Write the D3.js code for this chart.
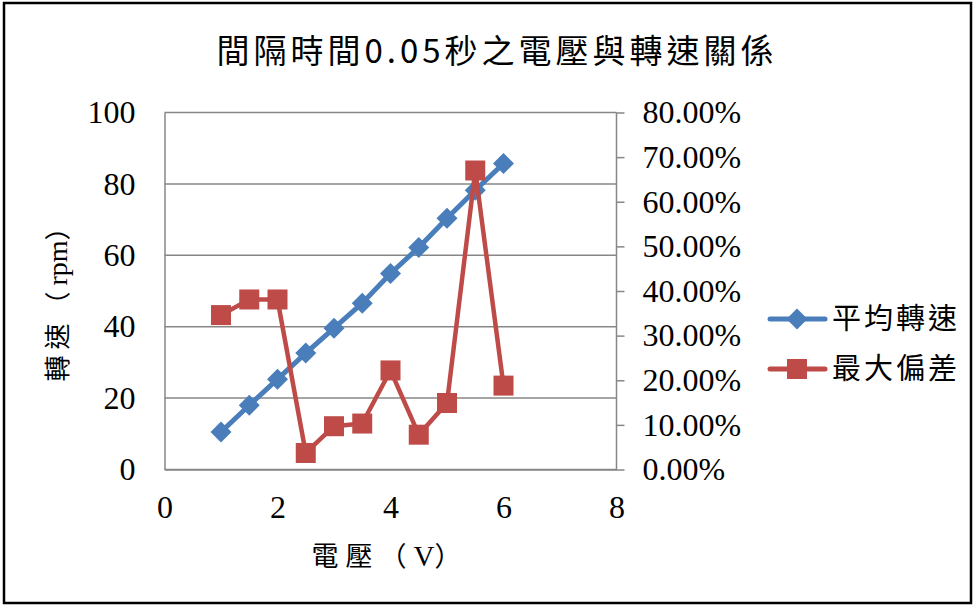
<!DOCTYPE html>
<html>
<head>
<meta charset="utf-8">
<script src="https://cdn.jsdelivr.net/npm/d3@7"></script>
<style>
  html, body { margin: 0; padding: 0; background: #fff; }
  svg { display: block; }
</style>
</head>
<body>
<svg id="chart" width="977" height="608"></svg>
<script>
// Voltage (V) at each measurement
const voltages = [1, 1.5, 2, 2.5, 3, 3.5, 4, 4.5, 5, 5.5, 6];
// Average rotation speed (rpm)
const avgSpeed = [10.5, 18.0, 25.3, 32.6, 39.6, 46.6, 54.9, 62.2, 70.4, 78.2, 85.7];
// Maximum deviation (fraction)
const maxDev = [0.346, 0.381, 0.381, 0.037, 0.097, 0.103, 0.222, 0.078, 0.149, 0.670, 0.188];

const xTicks = [0, 2, 4, 6, 8];
const leftTicks = [0, 20, 40, 60, 80, 100];
const rightTicks = [0, 0.1, 0.2, 0.3, 0.4, 0.5, 0.6, 0.7, 0.8];

const titleText = "間隔時間0.05秒之電壓與轉速關係";
// axis titles split into CJK / Latin runs: [text, isLatin]
const xTitleParts = [["電壓（", false], ["V", true], ["）", false]];
const yTitleParts = [["轉速（", false], ["rpm", true], ["）", false]];
const seriesNames = ["平均轉速", "最大偏差"];

const blue = "#4a7ebb", red = "#be4b48", gridColor = "#878787";
const serif = "'Liberation Serif', 'Times New Roman', serif";
const cjk = "'Noto Sans CJK TC', 'Noto Sans CJK SC', sans-serif";

const svg = d3.select("#chart");
const plot = { left: 164.5, right: 616.5, top: 112.5, bottom: 469.5 };

const x = d3.scaleLinear().domain([0, 8]).range([plot.left, plot.right]);
const yL = d3.scaleLinear().domain([0, 100]).range([plot.bottom, plot.top]);
const yR = d3.scaleLinear().domain([0, 0.8]).range([plot.bottom, plot.top]);

// outer frame
svg.append("rect").attr("x", 4).attr("y", 3).attr("width", 967).attr("height", 600)
  .attr("fill", "#fff").attr("stroke", "#000").attr("stroke-width", 2.5);

// title
svg.append("text").attr("x", 497).attr("y", 63).attr("text-anchor", "middle")
  .style("font-family", cjk).style("font-size", "33px").style("letter-spacing", "4px")
  .attr("fill", "#000").text(titleText);

// horizontal gridlines
svg.append("g").selectAll("line").data(leftTicks).join("line")
  .attr("x1", plot.left).attr("x2", plot.right)
  .attr("y1", d => yL(d)).attr("y2", d => yL(d))
  .attr("stroke", gridColor).attr("stroke-width", 1.5);

// left axis
const gL = svg.append("g").attr("transform", `translate(${plot.left},0)`)
  .call(d3.axisLeft(yL).tickValues(leftTicks).tickSize(0).tickPadding(29));
gL.select(".domain").attr("stroke", gridColor).attr("stroke-width", 1.5);
gL.selectAll("text").style("font-family", serif).style("font-size", "32px").attr("fill", "#000");

// right axis
const gR = svg.append("g").attr("transform", `translate(${plot.right},0)`)
  .call(d3.axisRight(yR).tickValues(rightTicks).tickSize(8).tickPadding(18)
    .tickFormat(d => (d * 100).toFixed(2) + "%"));
gR.select(".domain").attr("stroke", gridColor).attr("stroke-width", 1.5).attr("d", `M0,${plot.bottom}V${plot.top}`);
gR.selectAll(".tick line").attr("stroke", gridColor).attr("stroke-width", 1.5);
gR.selectAll("text").style("font-family", serif).style("font-size", "32px").attr("fill", "#000");

// bottom axis
const gX = svg.append("g").attr("transform", `translate(0,${plot.bottom})`)
  .call(d3.axisBottom(x).tickValues(xTicks).tickSize(0).tickPadding(26));
gX.select(".domain").attr("stroke", gridColor).attr("stroke-width", 1.5);
gX.selectAll("text").style("font-family", serif).style("font-size", "32px").attr("fill", "#000");

// axis titles with mixed CJK / Latin runs
function mixedTitle(sel, parts, size, spacing) {
  sel.attr("text-anchor", "middle").attr("fill", "#000");
  parts.forEach(([t, latin]) => {
    sel.append("tspan").text(t)
      .style("font-family", latin ? serif : cjk)
      .style("font-size", latin ? (size + 2) + "px" : size + "px")
      .style("letter-spacing", latin ? "0px" : spacing + "px");
  });
}
mixedTitle(svg.append("text").attr("x", 390).attr("y", 566), xTitleParts, 27, 7);
mixedTitle(svg.append("text").attr("transform", "translate(67,295) rotate(-90)"), yTitleParts, 26, 6);

// series
const lineL = d3.line().x((d, i) => x(voltages[i])).y(d => yL(d));
const lineR = d3.line().x((d, i) => x(voltages[i])).y(d => yR(d));

svg.append("path").datum(avgSpeed).attr("d", lineL)
  .attr("fill", "none").attr("stroke", blue).attr("stroke-width", 5).attr("stroke-linejoin", "round");
svg.append("g").selectAll("path").data(avgSpeed).join("path")
  .attr("transform", (d, i) => `translate(${x(voltages[i])},${yL(d)})`)
  .attr("d", "M0,-10.5L10.5,0L0,10.5L-10.5,0Z").attr("fill", blue);

svg.append("path").datum(maxDev).attr("d", lineR)
  .attr("fill", "none").attr("stroke", red).attr("stroke-width", 4.5).attr("stroke-linejoin", "round");
svg.append("g").selectAll("rect").data(maxDev).join("rect")
  .attr("x", (d, i) => x(voltages[i]) - 10).attr("y", d => yR(d) - 10)
  .attr("width", 20).attr("height", 20).attr("fill", red);

// legend
const legend = svg.append("g");
const legendY = [319, 369];
[blue, red].forEach((c, i) => {
  const g = legend.append("g").attr("transform", `translate(0,${legendY[i]})`);
  g.append("line").attr("x1", 770).attr("x2", 825).attr("stroke", c).attr("stroke-width", 5).attr("stroke-linecap", "round");
  if (i === 0) g.append("path").attr("transform", "translate(797,0)").attr("d", "M0,-10.5L10.5,0L0,10.5L-10.5,0Z").attr("fill", c);
  else g.append("rect").attr("x", 787).attr("y", -10).attr("width", 20).attr("height", 20).attr("fill", c);
  g.append("text").attr("x", 832).attr("y", 10).style("font-family", cjk).style("font-size", "29px")
    .style("letter-spacing", "3px").attr("fill", "#000").text(seriesNames[i]);
});
</script>
</body>
</html>
